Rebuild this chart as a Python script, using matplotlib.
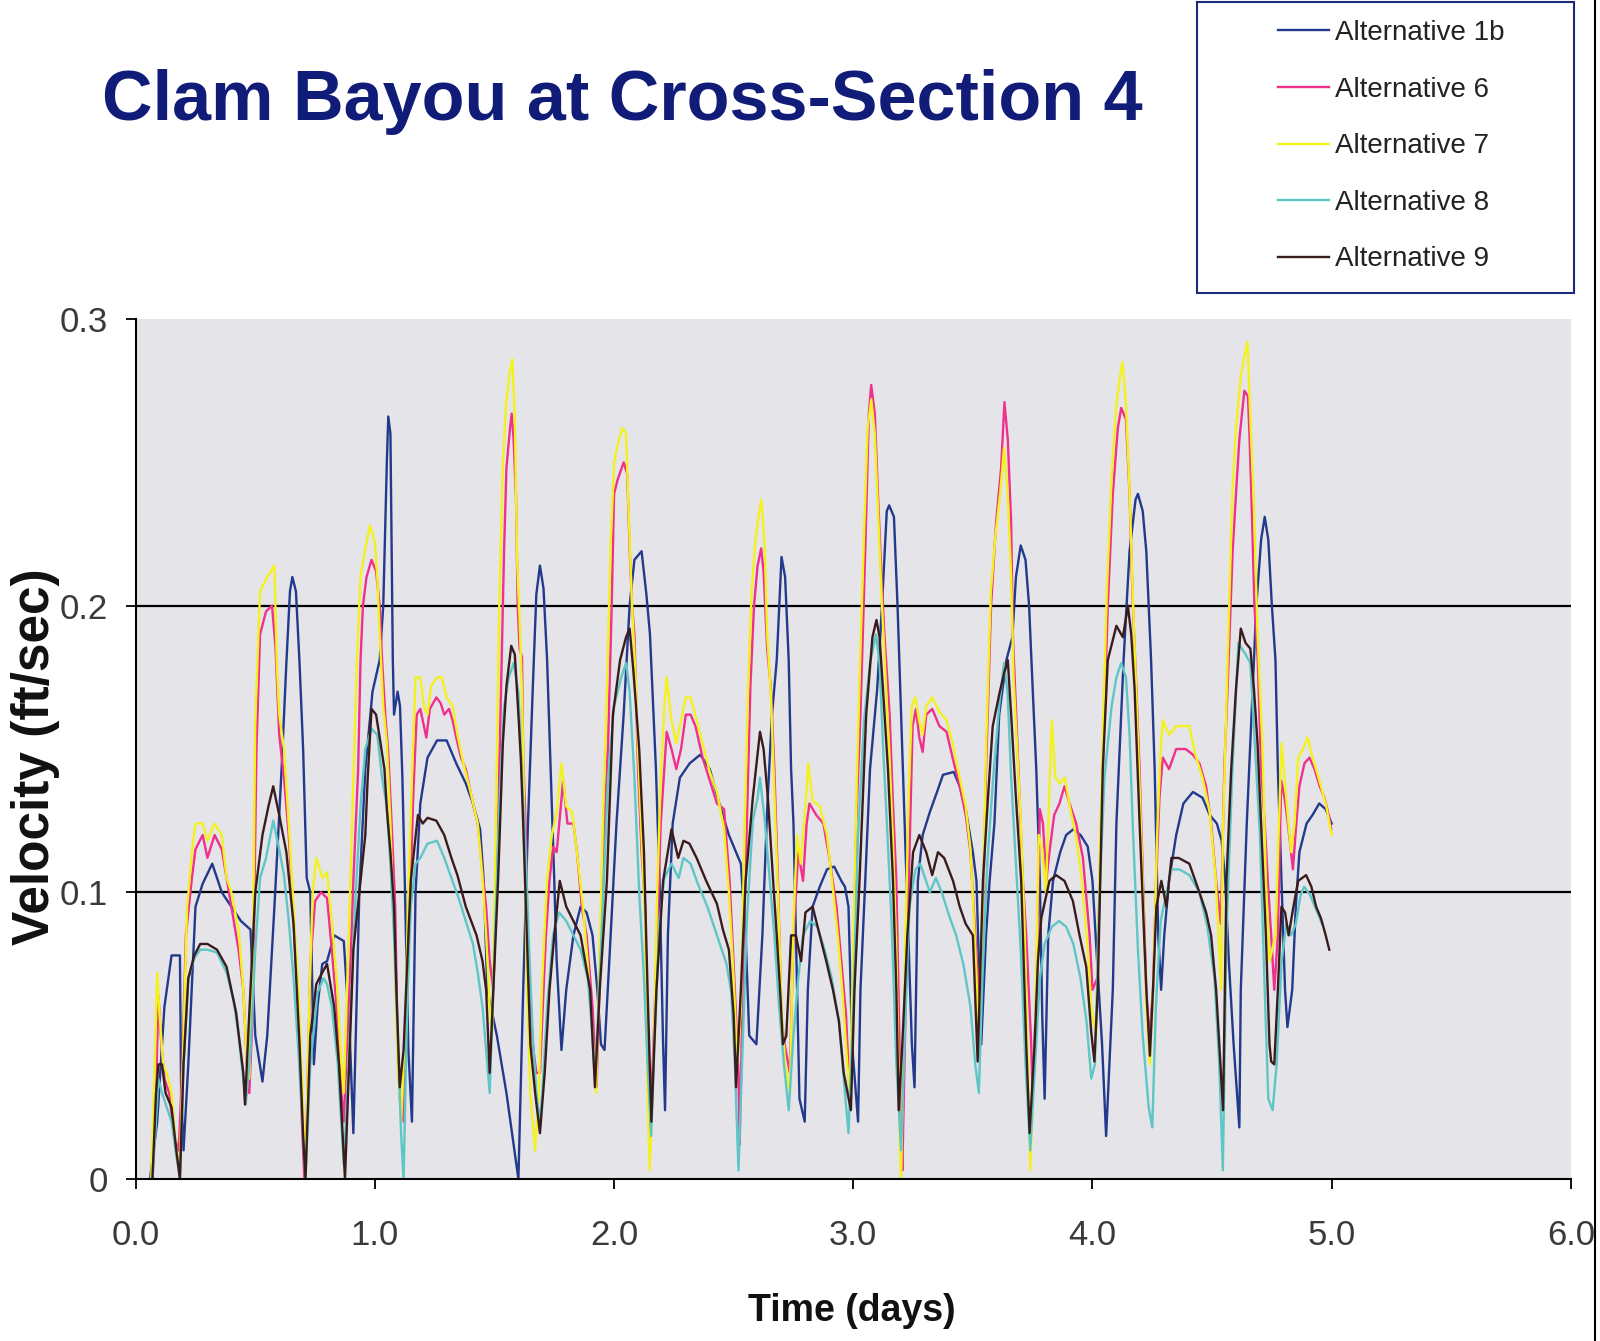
import numpy as np
import matplotlib
matplotlib.use("Agg")
import matplotlib.pyplot as plt
from matplotlib.patches import Rectangle
from matplotlib.lines import Line2D

plt.rcParams["font.family"] = ["Liberation Sans", "DejaVu Sans"]

# (day, velocity ft/sec)
alt_1b = [(0.06,0.0),(0.09,0.02),(0.12,0.06),(0.15,0.078),(0.185,0.078),(0.19,0.03),(0.20,0.01),(0.22,0.04),
 (0.25,0.095),(0.28,0.103),(0.32,0.11),(0.36,0.1),(0.40,0.095),(0.44,0.09),(0.48,0.087),(0.50,0.05),(0.53,0.034),
 (0.55,0.05),(0.58,0.095),(0.61,0.143),(0.63,0.18),(0.645,0.205),(0.655,0.21),(0.67,0.205),(0.685,0.18),(0.70,0.15),
 (0.715,0.105),(0.73,0.10),(0.745,0.04),(0.76,0.06),(0.78,0.075),(0.80,0.076),(0.83,0.085),(0.87,0.083),(0.895,0.05),
 (0.91,0.016),(0.935,0.1),(0.96,0.143),(0.99,0.17),(1.02,0.181),(1.035,0.2),(1.05,0.25),(1.056,0.266),(1.065,0.26),
 (1.075,0.181),(1.08,0.162),(1.095,0.17),(1.105,0.165),(1.115,0.14),(1.125,0.104),(1.14,0.045),(1.155,0.02),(1.17,0.1),
 (1.19,0.131),(1.22,0.147),(1.26,0.153),(1.30,0.153),(1.34,0.145),(1.38,0.138),(1.41,0.131),(1.44,0.122),(1.455,0.104),
 (1.47,0.066),(1.51,0.05),(1.55,0.03),(1.60,0.0),(1.62,0.066),(1.64,0.124),(1.66,0.171),(1.675,0.204),(1.69,0.214),
 (1.705,0.206),(1.72,0.181),(1.735,0.143),(1.75,0.104),(1.76,0.076),(1.78,0.045),(1.80,0.066),(1.83,0.085),(1.86,0.095),
 (1.885,0.093),(1.91,0.085),(1.93,0.066),(1.945,0.047),(1.96,0.045),(1.98,0.076),(2.01,0.124),(2.04,0.162),(2.065,0.2),
 (2.085,0.216),(2.115,0.219),(2.135,0.204),(2.15,0.19),(2.16,0.171),(2.175,0.143),(2.19,0.104),(2.205,0.047),(2.213,0.024),
 (2.225,0.085),(2.245,0.124),(2.275,0.14),(2.316,0.145),(2.36,0.148),(2.40,0.143),(2.44,0.131),(2.48,0.12),(2.51,0.114),
 (2.53,0.11),(2.55,0.085),(2.565,0.05),(2.595,0.047),(2.62,0.085),(2.64,0.129),(2.66,0.162),(2.68,0.181),(2.70,0.217),
 (2.715,0.21),(2.73,0.181),(2.74,0.143),(2.75,0.124),(2.76,0.085),(2.775,0.028),(2.797,0.02),(2.81,0.066),(2.83,0.095),
 (2.86,0.102),(2.89,0.108),(2.92,0.109),(2.95,0.104),(2.965,0.102),(2.98,0.095),(2.995,0.047),(3.02,0.02),(3.03,0.066),
 (3.05,0.104),(3.07,0.143),(3.10,0.171),(3.12,0.2),(3.14,0.233),(3.15,0.235),(3.17,0.231),(3.185,0.2),(3.2,0.162),
 (3.215,0.124),(3.23,0.085),(3.245,0.047),(3.256,0.032),(3.27,0.104),(3.29,0.12),(3.32,0.128),(3.35,0.135),(3.375,0.141),
 (3.42,0.142),(3.445,0.137),(3.47,0.129),(3.50,0.114),(3.515,0.104),(3.535,0.047),(3.555,0.085),(3.57,0.104),(3.59,0.124),
 (3.61,0.162),(3.64,0.181),(3.665,0.189),(3.68,0.21),(3.70,0.221),(3.72,0.216),(3.735,0.2),(3.75,0.171),(3.765,0.143),
 (3.78,0.104),(3.79,0.057),(3.80,0.028),(3.815,0.085),(3.835,0.104),(3.865,0.114),(3.89,0.12),(3.92,0.122),(3.95,0.12),
 (3.98,0.116),(4.0,0.104),(4.02,0.075),(4.04,0.047),(4.057,0.015),(4.085,0.066),(4.1,0.124),(4.13,0.181),(4.155,0.219),
 (4.18,0.237),(4.19,0.239),(4.21,0.233),(4.225,0.219),(4.245,0.181),(4.26,0.143),(4.275,0.085),(4.287,0.066),(4.30,0.085),
 (4.32,0.104),(4.35,0.12),(4.38,0.131),(4.42,0.135),(4.46,0.133),(4.49,0.127),(4.52,0.124),(4.54,0.118),(4.555,0.104),
 (4.57,0.076),(4.59,0.047),(4.614,0.018),(4.62,0.066),(4.645,0.124),(4.665,0.162),(4.685,0.2),(4.705,0.223),(4.72,0.231),
 (4.735,0.223),(4.75,0.2),(4.765,0.181),(4.775,0.143),(4.79,0.104),(4.805,0.066),(4.815,0.053),(4.835,0.066),(4.85,0.095),
 (4.865,0.114),(4.895,0.124),(4.92,0.127),(4.948,0.131),(4.975,0.129),(5.0,0.124)]

alt_6 = [(0.07,0.0),(0.085,0.03),(0.095,0.064),(0.105,0.05),(0.12,0.035),(0.14,0.03),(0.16,0.015),(0.18,0.01),
 (0.195,0.04),(0.21,0.085),(0.235,0.105),(0.25,0.115),(0.28,0.12),(0.30,0.112),(0.33,0.12),(0.36,0.115),(0.38,0.105),
 (0.40,0.095),(0.43,0.08),(0.45,0.066),(0.465,0.04),(0.475,0.03),(0.49,0.06),(0.505,0.15),(0.52,0.19),(0.545,0.198),
 (0.57,0.2),(0.585,0.185),(0.60,0.155),(0.62,0.14),(0.64,0.12),(0.66,0.09),(0.68,0.06),(0.695,0.02),(0.705,0.0),
 (0.715,0.02),(0.73,0.075),(0.75,0.097),(0.775,0.1),(0.80,0.098),(0.82,0.08),(0.84,0.06),(0.86,0.03),(0.87,0.02),
 (0.885,0.05),(0.9,0.08),(0.91,0.104),(0.93,0.143),(0.94,0.181),(0.95,0.2),(0.965,0.21),(0.986,0.216),(1.005,0.212),
 (1.02,0.2),(1.03,0.181),(1.045,0.16),(1.055,0.15),(1.07,0.124),(1.085,0.095),(1.095,0.047),(1.104,0.028),(1.12,0.02),
 (1.135,0.066),(1.15,0.104),(1.16,0.133),(1.175,0.162),(1.19,0.164),(1.205,0.158),(1.215,0.154),(1.23,0.164),(1.257,0.168),
 (1.275,0.166),(1.29,0.162),(1.31,0.164),(1.325,0.16),(1.34,0.154),(1.36,0.147),(1.38,0.143),(1.41,0.131),(1.43,0.124),
 (1.45,0.107),(1.465,0.095),(1.48,0.076),(1.495,0.066),(1.51,0.104),(1.525,0.162),(1.54,0.219),(1.55,0.248),(1.565,0.262),
 (1.572,0.267),(1.58,0.258),(1.59,0.238),(1.597,0.2),(1.605,0.185),(1.615,0.182),(1.62,0.147),(1.63,0.124),(1.64,0.076),
 (1.66,0.047),(1.675,0.037),(1.69,0.037),(1.70,0.056),(1.715,0.085),(1.73,0.104),(1.745,0.116),(1.76,0.114),(1.787,0.139),
 (1.805,0.124),(1.83,0.124),(1.845,0.114),(1.865,0.095),(1.885,0.085),(1.91,0.06),(1.927,0.032),(1.945,0.085),(1.96,0.124),
 (1.975,0.152),(1.99,0.2),(2.0,0.239),(2.015,0.244),(2.04,0.25),(2.055,0.246),(2.065,0.22),(2.075,0.2),(2.085,0.19),
 (2.1,0.143),(2.115,0.114),(2.13,0.095),(2.14,0.047),(2.15,0.018),(2.165,0.047),(2.18,0.085),(2.195,0.124),(2.21,0.143),
 (2.22,0.156),(2.24,0.15),(2.26,0.143),(2.28,0.15),(2.30,0.162),(2.32,0.162),(2.34,0.158),(2.37,0.147),(2.40,0.139),
 (2.43,0.131),(2.46,0.129),(2.483,0.104),(2.505,0.066),(2.52,0.037),(2.525,0.012),(2.54,0.076),(2.555,0.124),(2.57,0.172),
 (2.585,0.2),(2.6,0.214),(2.615,0.22),(2.625,0.212),(2.64,0.185),(2.655,0.172),(2.67,0.143),(2.685,0.104),(2.70,0.056),
 (2.713,0.047),(2.735,0.037),(2.75,0.085),(2.77,0.114),(2.79,0.104),(2.805,0.124),(2.817,0.131),(2.845,0.127),(2.875,0.124),
 (2.9,0.112),(2.93,0.095),(2.95,0.076),(2.97,0.057),(2.985,0.028),(3.0,0.066),(3.012,0.124),(3.03,0.162),(3.05,0.219),
 (3.065,0.267),(3.075,0.277),(3.09,0.267),(3.103,0.239),(3.118,0.21),(3.13,0.19),(3.152,0.162),(3.165,0.133),(3.18,0.104),
 (3.193,0.047),(3.2,0.018),(3.205,0.003),(3.22,0.066),(3.235,0.114),(3.248,0.158),(3.262,0.164),(3.276,0.154),(3.29,0.149),
 (3.305,0.162),(3.33,0.164),(3.36,0.158),(3.39,0.156),(3.415,0.147),(3.445,0.137),(3.47,0.127),(3.49,0.114),(3.51,0.085),
 (3.528,0.06),(3.54,0.085),(3.555,0.143),(3.576,0.2),(3.597,0.229),(3.618,0.248),(3.632,0.271),(3.646,0.258),(3.66,0.229),
 (3.667,0.19),(3.681,0.162),(3.695,0.133),(3.709,0.104),(3.723,0.085),(3.744,0.047),(3.75,0.028),(3.765,0.066),(3.78,0.129),
 (3.793,0.124),(3.807,0.104),(3.82,0.114),(3.84,0.127),(3.862,0.131),(3.883,0.137),(3.904,0.131),(3.932,0.124),(3.96,0.112),
 (3.988,0.085),(4.0,0.066),(4.02,0.07),(4.036,0.124),(4.05,0.162),(4.064,0.2),(4.085,0.239),(4.106,0.262),(4.12,0.269),
 (4.14,0.265),(4.155,0.239),(4.169,0.2),(4.183,0.172),(4.197,0.143),(4.211,0.104),(4.225,0.066),(4.238,0.049),(4.253,0.066),
 (4.266,0.104),(4.28,0.133),(4.294,0.147),(4.32,0.143),(4.35,0.15),(4.39,0.15),(4.42,0.148),(4.447,0.145),(4.475,0.137),
 (4.496,0.124),(4.517,0.104),(4.537,0.089),(4.551,0.143),(4.565,0.172),(4.586,0.219),(4.6,0.239),(4.614,0.258),(4.635,0.275),
 (4.65,0.273),(4.657,0.258),(4.664,0.239),(4.677,0.2),(4.691,0.181),(4.705,0.143),(4.72,0.124),(4.733,0.104),(4.747,0.085),
 (4.76,0.066),(4.775,0.085),(4.789,0.139),(4.803,0.133),(4.817,0.124),(4.838,0.108),(4.852,0.124),(4.865,0.137),(4.886,0.145),
 (4.907,0.147),(4.928,0.143),(4.95,0.137),(4.97,0.133),(4.99,0.126),(4.998,0.122)]

alt_7 = [(0.065,0.0),(0.08,0.04),(0.09,0.072),(0.1,0.057),(0.115,0.04),(0.13,0.037),(0.15,0.03),(0.17,0.01),
 (0.185,0.005),(0.20,0.05),(0.215,0.095),(0.24,0.118),(0.25,0.124),(0.28,0.124),(0.30,0.118),(0.33,0.124),(0.36,0.12),
 (0.38,0.105),(0.40,0.1),(0.43,0.087),(0.45,0.066),(0.465,0.04),(0.475,0.035),(0.49,0.08),(0.50,0.16),(0.52,0.205),
 (0.55,0.21),(0.58,0.214),(0.59,0.18),(0.60,0.162),(0.62,0.15),(0.64,0.124),(0.66,0.095),(0.68,0.066),(0.695,0.035),
 (0.71,0.0),(0.725,0.06),(0.74,0.1),(0.755,0.112),(0.78,0.105),(0.80,0.107),(0.82,0.09),(0.84,0.07),(0.86,0.04),
 (0.87,0.03),(0.885,0.07),(0.9,0.11),(0.91,0.14),(0.925,0.181),(0.94,0.21),(0.96,0.22),(0.98,0.228),(1.0,0.222),
 (1.01,0.21),(1.02,0.19),(1.035,0.165),(1.05,0.152),(1.065,0.124),(1.08,0.085),(1.095,0.04),(1.11,0.02),(1.125,0.05),
 (1.14,0.1),(1.155,0.14),(1.17,0.175),(1.19,0.175),(1.205,0.165),(1.22,0.162),(1.235,0.172),(1.26,0.175),(1.28,0.175),
 (1.30,0.168),(1.325,0.165),(1.345,0.155),(1.37,0.145),(1.40,0.135),(1.43,0.124),(1.45,0.105),(1.465,0.085),(1.48,0.06),
 (1.49,0.05),(1.505,0.12),(1.52,0.2),(1.535,0.25),(1.55,0.272),(1.565,0.282),(1.575,0.286),(1.585,0.265),(1.595,0.215),
 (1.605,0.195),(1.615,0.17),(1.625,0.124),(1.635,0.07),(1.65,0.03),(1.67,0.01),(1.685,0.03),(1.70,0.07),(1.72,0.105),
 (1.74,0.12),(1.76,0.128),(1.78,0.145),(1.80,0.13),(1.825,0.128),(1.85,0.11),(1.87,0.095),(1.89,0.075),(1.91,0.05),
 (1.925,0.03),(1.94,0.08),(1.955,0.13),(1.97,0.17),(1.985,0.22),(2.0,0.25),(2.02,0.258),(2.035,0.262),(2.05,0.26),
 (2.06,0.235),(2.075,0.2),(2.09,0.175),(2.1,0.15),(2.115,0.12),(2.13,0.09),(2.14,0.03),(2.149,0.003),(2.165,0.04),
 (2.18,0.1),(2.195,0.14),(2.21,0.165),(2.22,0.175),(2.24,0.16),(2.26,0.152),(2.28,0.16),(2.30,0.168),(2.32,0.168),
 (2.345,0.16),(2.37,0.152),(2.40,0.142),(2.43,0.135),(2.46,0.122),(2.48,0.1),(2.50,0.07),(2.515,0.04),(2.53,0.06),
 (2.545,0.12),(2.56,0.17),(2.575,0.205),(2.59,0.222),(2.605,0.232),(2.616,0.237),(2.63,0.22),(2.64,0.19),(2.655,0.17),
 (2.67,0.135),(2.685,0.1),(2.70,0.06),(2.715,0.04),(2.735,0.03),(2.75,0.09),(2.765,0.12),(2.78,0.11),(2.8,0.13),
 (2.812,0.145),(2.83,0.132),(2.86,0.13),(2.89,0.12),(2.91,0.105),(2.935,0.085),(2.955,0.065),(2.975,0.04),(2.985,0.03),
 (3.0,0.08),(3.015,0.14),(3.03,0.185),(3.045,0.225),(3.06,0.262),(3.075,0.272),(3.09,0.26),(3.105,0.23),(3.12,0.2),
 (3.135,0.175),(3.15,0.15),(3.165,0.12),(3.18,0.08),(3.195,0.01),(3.2,0.0),(3.215,0.07),(3.23,0.13),(3.245,0.165),
 (3.26,0.168),(3.275,0.16),(3.29,0.155),(3.305,0.165),(3.33,0.168),(3.36,0.163),(3.39,0.16),(3.415,0.152),(3.445,0.14),
 (3.47,0.13),(3.49,0.115),(3.51,0.08),(3.525,0.05),(3.54,0.09),(3.555,0.15),(3.575,0.205),(3.595,0.225),(3.615,0.24),
 (3.63,0.255),(3.645,0.24),(3.66,0.21),(3.67,0.175),(3.685,0.15),(3.7,0.125),(3.715,0.09),(3.73,0.04),(3.74,0.003),
 (3.76,0.05),(3.775,0.12),(3.79,0.115),(3.805,0.1),(3.83,0.16),(3.845,0.14),(3.865,0.138),(3.885,0.14),(3.905,0.13),
 (3.93,0.12),(3.955,0.105),(3.98,0.08),(3.995,0.06),(4.015,0.05),(4.03,0.11),(4.045,0.16),(4.06,0.205),(4.08,0.245),
 (4.10,0.27),(4.115,0.28),(4.126,0.285),(4.14,0.27),(4.155,0.24),(4.17,0.2),(4.185,0.165),(4.2,0.13),(4.215,0.09),
 (4.225,0.06),(4.24,0.04),(4.255,0.07),(4.27,0.12),(4.285,0.15),(4.294,0.16),(4.32,0.155),(4.35,0.158),(4.39,0.158),
 (4.405,0.158),(4.43,0.148),(4.46,0.14),(4.49,0.128),(4.515,0.105),(4.538,0.066),(4.545,0.12),(4.565,0.181),(4.585,0.24),
 (4.6,0.262),(4.62,0.28),(4.635,0.287),(4.648,0.292),(4.66,0.265),(4.675,0.235),(4.69,0.19),(4.71,0.152),(4.725,0.104),
 (4.74,0.076),(4.765,0.085),(4.79,0.152),(4.81,0.133),(4.83,0.114),(4.845,0.124),(4.86,0.147),(4.88,0.15),(4.9,0.154),
 (4.92,0.147),(4.945,0.14),(4.975,0.131),(5.0,0.12)]

alt_8 = [(0.07,0.0),(0.085,0.02),(0.095,0.035),(0.11,0.03),(0.13,0.025),(0.15,0.02),(0.17,0.008),(0.185,0.0),
 (0.20,0.04),(0.22,0.07),(0.245,0.077),(0.27,0.08),(0.30,0.08),(0.34,0.079),(0.38,0.072),(0.41,0.062),(0.43,0.05),
 (0.45,0.035),(0.46,0.026),(0.48,0.045),(0.50,0.08),(0.52,0.105),(0.545,0.112),(0.575,0.125),(0.60,0.115),(0.62,0.106),
 (0.64,0.09),(0.66,0.07),(0.68,0.045),(0.70,0.015),(0.71,0.0),(0.73,0.04),(0.76,0.065),(0.785,0.07),(0.80,0.068),
 (0.82,0.06),(0.845,0.04),(0.87,0.005),(0.885,0.03),(0.9,0.06),(0.92,0.1),(0.94,0.13),(0.96,0.15),(0.986,0.157),
 (1.01,0.155),(1.03,0.14),(1.05,0.13),(1.065,0.11),(1.08,0.085),(1.095,0.05),(1.11,0.015),(1.12,0.0),(1.135,0.06),
 (1.15,0.095),(1.17,0.11),(1.19,0.112),(1.22,0.117),(1.26,0.118),(1.29,0.112),(1.32,0.105),(1.35,0.098),(1.38,0.09),
 (1.41,0.082),(1.43,0.072),(1.45,0.06),(1.47,0.04),(1.48,0.03),(1.50,0.08),(1.52,0.13),(1.54,0.165),(1.56,0.175),
 (1.58,0.18),(1.60,0.17),(1.615,0.14),(1.63,0.115),(1.645,0.08),(1.66,0.05),(1.675,0.03),(1.69,0.02),(1.70,0.03),
 (1.72,0.06),(1.745,0.085),(1.77,0.093),(1.80,0.09),(1.83,0.085),(1.86,0.08),(1.89,0.07),(1.905,0.055),(1.92,0.035),
 (1.935,0.06),(1.955,0.1),(1.975,0.14),(2.0,0.165),(2.03,0.175),(2.05,0.18),(2.065,0.17),(2.085,0.14),(2.105,0.1),
 (2.125,0.07),(2.14,0.04),(2.155,0.015),(2.17,0.05),(2.19,0.09),(2.21,0.105),(2.24,0.11),(2.27,0.105),(2.29,0.112),
 (2.32,0.11),(2.35,0.103),(2.39,0.095),(2.43,0.085),(2.47,0.075),(2.49,0.065),(2.505,0.04),(2.52,0.003),(2.535,0.04),
 (2.555,0.09),(2.58,0.125),(2.6,0.133),(2.61,0.14),(2.63,0.125),(2.65,0.105),(2.67,0.085),(2.69,0.06),(2.71,0.04),
 (2.73,0.024),(2.75,0.05),(2.77,0.07),(2.79,0.085),(2.82,0.09),(2.85,0.088),(2.88,0.08),(2.91,0.07),(2.94,0.055),
 (2.96,0.035),(2.98,0.016),(3.0,0.06),(3.02,0.12),(3.045,0.16),(3.07,0.18),(3.095,0.19),(3.11,0.18),(3.125,0.15),
 (3.14,0.125),(3.16,0.09),(3.18,0.04),(3.2,0.01),(3.215,0.05),(3.235,0.095),(3.26,0.108),(3.28,0.11),(3.3,0.105),
 (3.32,0.1),(3.345,0.105),(3.37,0.1),(3.4,0.092),(3.43,0.085),(3.46,0.075),(3.49,0.06),(3.51,0.04),(3.525,0.03),
 (3.54,0.07),(3.56,0.11),(3.585,0.14),(3.61,0.165),(3.63,0.18),(3.645,0.17),(3.66,0.14),(3.68,0.11),(3.7,0.08),
 (3.72,0.04),(3.74,0.01),(3.76,0.04),(3.78,0.07),(3.80,0.082),(3.83,0.088),(3.86,0.09),(3.89,0.088),(3.92,0.082),
 (3.95,0.07),(3.975,0.055),(3.995,0.035),(4.01,0.04),(4.03,0.1),(4.05,0.14),(4.08,0.165),(4.1,0.175),(4.12,0.18),
 (4.14,0.175),(4.155,0.155),(4.17,0.12),(4.19,0.08),(4.21,0.05),(4.235,0.025),(4.25,0.018),(4.265,0.06),(4.285,0.09),
 (4.31,0.1),(4.33,0.108),(4.364,0.108),(4.405,0.106),(4.447,0.1),(4.48,0.088),(4.51,0.07),(4.53,0.04),(4.545,0.003),
 (4.56,0.085),(4.585,0.143),(4.61,0.187),(4.64,0.183),(4.66,0.18),(4.68,0.15),(4.70,0.12),(4.72,0.066),(4.735,0.028),
 (4.753,0.024),(4.77,0.04),(4.79,0.075),(4.81,0.089),(4.83,0.085),(4.85,0.089),(4.87,0.099),(4.885,0.102),(4.91,0.099),
 (4.94,0.093),(4.96,0.089)]

alt_9 = [(0.07,0.0),(0.085,0.03),(0.095,0.04),(0.11,0.04),(0.125,0.03),(0.15,0.025),(0.17,0.01),(0.185,0.0),
 (0.20,0.04),(0.22,0.07),(0.245,0.078),(0.27,0.082),(0.30,0.082),(0.34,0.08),(0.38,0.074),(0.42,0.058),(0.45,0.037),
 (0.457,0.026),(0.475,0.058),(0.50,0.1),(0.53,0.12),(0.555,0.13),(0.575,0.137),(0.60,0.127),(0.63,0.114),(0.66,0.089),
 (0.685,0.047),(0.70,0.015),(0.71,0.0),(0.73,0.05),(0.755,0.068),(0.78,0.072),(0.80,0.075),(0.83,0.06),(0.85,0.04),
 (0.875,0.0),(0.89,0.035),(0.91,0.08),(0.935,0.1),(0.96,0.12),(0.97,0.14),(0.986,0.164),(1.005,0.162),(1.02,0.154),
 (1.04,0.143),(1.05,0.129),(1.065,0.114),(1.08,0.095),(1.09,0.066),(1.104,0.032),(1.12,0.045),(1.135,0.075),(1.15,0.104),
 (1.18,0.127),(1.2,0.124),(1.22,0.126),(1.257,0.125),(1.29,0.12),(1.32,0.112),(1.345,0.106),(1.38,0.095),(1.425,0.085),
 (1.45,0.076),(1.465,0.066),(1.48,0.037),(1.495,0.066),(1.515,0.104),(1.535,0.152),(1.55,0.172),(1.57,0.186),(1.585,0.183),
 (1.6,0.162),(1.61,0.147),(1.62,0.124),(1.635,0.085),(1.65,0.047),(1.67,0.03),(1.69,0.016),(1.71,0.037),(1.73,0.066),
 (1.75,0.085),(1.773,0.104),(1.8,0.095),(1.83,0.09),(1.86,0.085),(1.9,0.066),(1.92,0.032),(1.94,0.066),(1.97,0.104),
 (1.995,0.162),(2.025,0.181),(2.05,0.189),(2.065,0.192),(2.08,0.178),(2.105,0.15),(2.125,0.114),(2.14,0.066),(2.156,0.02),
 (2.177,0.066),(2.205,0.104),(2.24,0.122),(2.268,0.112),(2.29,0.118),(2.315,0.117),(2.345,0.112),(2.385,0.104),(2.43,0.096),
 (2.455,0.087),(2.48,0.08),(2.5,0.057),(2.51,0.032),(2.53,0.066),(2.55,0.104),(2.58,0.133),(2.61,0.156),(2.625,0.15),
 (2.643,0.133),(2.665,0.104),(2.68,0.085),(2.694,0.066),(2.706,0.047),(2.72,0.05),(2.74,0.085),(2.76,0.085),(2.782,0.076),
 (2.8,0.093),(2.83,0.095),(2.86,0.085),(2.887,0.076),(2.915,0.066),(2.94,0.055),(2.96,0.037),(2.99,0.024),(3.005,0.066),
 (3.026,0.104),(3.054,0.162),(3.08,0.189),(3.097,0.195),(3.11,0.189),(3.124,0.171),(3.145,0.143),(3.166,0.104),(3.18,0.066),
 (3.19,0.024),(3.205,0.047),(3.226,0.085),(3.25,0.114),(3.276,0.12),(3.305,0.114),(3.33,0.106),(3.354,0.114),(3.38,0.112),
 (3.417,0.104),(3.445,0.095),(3.47,0.089),(3.5,0.085),(3.52,0.041),(3.542,0.104),(3.563,0.133),(3.583,0.158),(3.61,0.169),
 (3.632,0.177),(3.646,0.181),(3.66,0.162),(3.68,0.133),(3.702,0.104),(3.723,0.047),(3.737,0.016),(3.758,0.047),(3.772,0.076),
 (3.786,0.091),(3.82,0.104),(3.848,0.106),(3.883,0.104),(3.918,0.097),(3.946,0.085),(3.974,0.074),(3.995,0.051),(4.008,0.041),
 (4.022,0.066),(4.043,0.143),(4.064,0.181),(4.1,0.193),(4.127,0.189),(4.148,0.2),(4.162,0.19),(4.176,0.171),(4.197,0.124),
 (4.211,0.095),(4.225,0.066),(4.24,0.043),(4.253,0.066),(4.267,0.095),(4.288,0.104),(4.309,0.095),(4.33,0.112),(4.36,0.112),
 (4.405,0.11),(4.447,0.1),(4.475,0.093),(4.496,0.085),(4.517,0.066),(4.53,0.047),(4.546,0.024),(4.56,0.104),(4.58,0.143),
 (4.6,0.171),(4.62,0.192),(4.64,0.187),(4.66,0.185),(4.675,0.171),(4.69,0.152),(4.705,0.124),(4.725,0.085),(4.74,0.047),
 (4.747,0.041),(4.76,0.04),(4.775,0.066),(4.79,0.095),(4.805,0.093),(4.82,0.085),(4.84,0.095),(4.86,0.104),(4.893,0.106),
 (4.915,0.102),(4.935,0.095),(4.955,0.091),(4.975,0.085),(4.99,0.08)]

series_names = ["Alternative 1b", "Alternative 6", "Alternative 7", "Alternative 8", "Alternative 9"]
series_data = [alt_1b, alt_6, alt_7, alt_8, alt_9]
series_colors = ["#22398c", "#f0308c", "#f4f21c", "#5ec6c6", "#3a1c1c"]

x_ticks = [0, 1, 2, 3, 4, 5, 6]
x_labels = ["0.0", "1.0", "2.0", "3.0", "4.0", "5.0", "6.0"]
y_ticks = [0, 0.1, 0.2, 0.3]
y_labels = ["0", "0.1", "0.2", "0.3"]

fig = plt.figure(figsize=(16, 13.41), dpi=100)
ax = fig.add_axes([0.0848, 0.1208, 0.897, 0.6413])
ax.set_facecolor("#e5e4e9")

for yv in [0.1, 0.2]:
    ax.axhline(yv, color="black", lw=1.6, zorder=1)

for name, data, col in zip(series_names, series_data, series_colors):
    arr = np.array(data)
    ax.plot(arr[:, 0], arr[:, 1], color=col, lw=1.7, label=name, zorder=2)

ax.set_xlim(0, 6)
ax.set_ylim(0, 0.3)
ax.set_xticks(x_ticks)
ax.set_xticklabels(x_labels)
ax.set_yticks(y_ticks)
ax.set_yticklabels(y_labels)
ax.tick_params(axis="x", direction="out", length=7, width=1.3, pad=22, labelsize=25, labelcolor="#3a3a3a")
ax.tick_params(axis="y", direction="out", length=7, width=1.3, pad=13, labelsize=25, labelcolor="#3a3a3a")
for s in ["top", "right"]:
    ax.spines[s].set_visible(False)
for s in ["left", "bottom"]:
    ax.spines[s].set_linewidth(1.5)

fig.text(0.0223, 0.4355, "Velocity (ft/sec)", rotation=90, ha="center", va="center",
         fontsize=37, fontweight="bold", color="#111111")
fig.text(0.5325, 0.0224, "Time (days)", ha="center", va="center",
         fontsize=27, fontweight="bold", color="#111111")
fig.text(0.0638, 0.924, "Clam Bayou at Cross-Section 4", ha="left", va="center",
         fontsize=50.5, fontweight="bold", color="#101c78")

# legend box
fig.patches.append(Rectangle((0.748, 0.7815), 0.2356, 0.217, transform=fig.transFigure,
                             fill=False, edgecolor="#1c2a7a", lw=1.5))
handles = [Line2D([0], [0], color=c, lw=1.7) for c in series_colors]
fig.legend(handles, series_names, loc="upper left", bbox_to_anchor=(0.7985, 0.985),
           frameon=False, borderpad=0, borderaxespad=0, handlelength=1.85, handletextpad=0.2,
           labelspacing=1.1, fontsize=20, labelcolor="#222222")

fig.add_artist(Line2D([0.997, 0.997], [0.0, 1.0], transform=fig.transFigure, color="black", lw=1.5))

fig.savefig("out.png", dpi=100)
